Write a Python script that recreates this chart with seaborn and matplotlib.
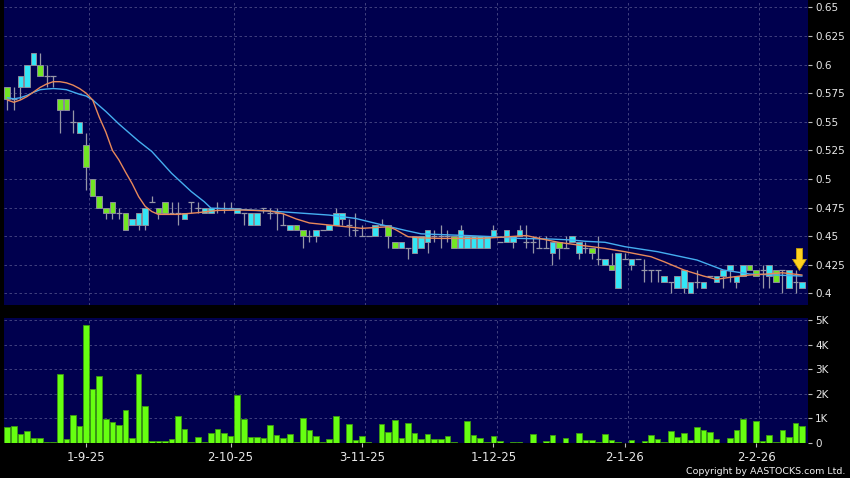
import matplotlib
matplotlib.use("Agg")
import numpy as np
import matplotlib.pyplot as plt
import seaborn as sns

# --- daily bars (trading-day index 0..121) ---
opens = [0.58, 0.57, 0.58, 0.58, 0.60, 0.60, 0.59, 0.59, 0.57, 0.57,
         0.55, 0.54, 0.53, 0.50, 0.485, 0.475, 0.48, 0.47, 0.47, 0.46,
         0.46, 0.46, 0.48, 0.475, 0.48, 0.47, 0.47, 0.465, 0.48, 0.475,
         0.47, 0.47, 0.475, 0.475, 0.475, 0.47, 0.47, 0.46, 0.46, 0.475,
         0.47, 0.47, 0.46, 0.455, 0.46, 0.455, 0.45, 0.45, 0.455, 0.455,
         0.46, 0.465, 0.46, 0.455, 0.45, 0.45, 0.45, 0.46, 0.46, 0.445,
         0.44, 0.44, 0.435, 0.44, 0.445, 0.45, 0.45, 0.45, 0.45, 0.44,
         0.44, 0.44, 0.44, 0.44, 0.45, 0.445, 0.445, 0.445, 0.45, 0.445,
         0.445, 0.44, 0.44, 0.435, 0.445, 0.44, 0.445, 0.435, 0.44, 0.44,
         0.43, 0.425, 0.425, 0.405, 0.43, 0.425, 0.43, 0.42, 0.42, 0.42,
         0.41, 0.41, 0.405, 0.405, 0.40, 0.41, 0.405, 0.415, 0.41, 0.415,
         0.42, 0.41, 0.415, 0.425, 0.42, 0.42, 0.415, 0.42, 0.42, 0.405,
         0.41, 0.405]
highs = [0.58, 0.58, 0.59, 0.60, 0.61, 0.61, 0.60, 0.59, 0.57, 0.57,
         0.56, 0.55, 0.54, 0.50, 0.485, 0.475, 0.48, 0.475, 0.47, 0.465,
         0.47, 0.475, 0.485, 0.475, 0.48, 0.48, 0.48, 0.47, 0.48, 0.48,
         0.475, 0.475, 0.48, 0.48, 0.48, 0.475, 0.47, 0.47, 0.47, 0.475,
         0.475, 0.475, 0.47, 0.46, 0.46, 0.455, 0.455, 0.455, 0.455, 0.46,
         0.475, 0.47, 0.465, 0.47, 0.46, 0.45, 0.46, 0.465, 0.46, 0.445,
         0.445, 0.44, 0.45, 0.45, 0.455, 0.455, 0.46, 0.455, 0.45, 0.46,
         0.45, 0.45, 0.45, 0.45, 0.46, 0.445, 0.455, 0.45, 0.46, 0.46,
         0.45, 0.45, 0.45, 0.445, 0.445, 0.45, 0.45, 0.445, 0.445, 0.44,
         0.45, 0.43, 0.435, 0.435, 0.435, 0.43, 0.43, 0.43, 0.42, 0.42,
         0.415, 0.41, 0.415, 0.42, 0.41, 0.42, 0.41, 0.415, 0.415, 0.42,
         0.425, 0.415, 0.425, 0.425, 0.42, 0.425, 0.425, 0.42, 0.42, 0.42,
         0.42, 0.41]
lows = [0.56, 0.56, 0.57, 0.58, 0.60, 0.59, 0.58, 0.58, 0.54, 0.56,
        0.54, 0.54, 0.49, 0.485, 0.475, 0.465, 0.465, 0.465, 0.455, 0.46,
        0.455, 0.455, 0.48, 0.465, 0.47, 0.47, 0.46, 0.465, 0.47, 0.47,
        0.47, 0.47, 0.47, 0.47, 0.475, 0.47, 0.46, 0.46, 0.46, 0.47,
        0.465, 0.455, 0.46, 0.455, 0.455, 0.44, 0.445, 0.445, 0.455, 0.455,
        0.46, 0.46, 0.45, 0.45, 0.45, 0.45, 0.45, 0.46, 0.44, 0.44,
        0.44, 0.43, 0.435, 0.44, 0.435, 0.445, 0.44, 0.445, 0.44, 0.44,
        0.44, 0.44, 0.44, 0.44, 0.45, 0.445, 0.445, 0.44, 0.45, 0.44,
        0.435, 0.44, 0.44, 0.425, 0.43, 0.44, 0.445, 0.43, 0.435, 0.43,
        0.425, 0.425, 0.42, 0.405, 0.43, 0.42, 0.43, 0.41, 0.41, 0.41,
        0.41, 0.40, 0.405, 0.40, 0.40, 0.405, 0.405, 0.415, 0.41, 0.405,
        0.41, 0.405, 0.415, 0.42, 0.415, 0.405, 0.405, 0.41, 0.40, 0.405,
        0.40, 0.405]
closes = [0.57, 0.57, 0.59, 0.60, 0.61, 0.59, 0.59, 0.59, 0.56, 0.56,
          0.55, 0.55, 0.51, 0.485, 0.475, 0.47, 0.47, 0.47, 0.455, 0.465,
          0.47, 0.475, 0.48, 0.47, 0.47, 0.47, 0.47, 0.47, 0.48, 0.475,
          0.475, 0.475, 0.475, 0.475, 0.475, 0.475, 0.47, 0.47, 0.47, 0.475,
          0.47, 0.47, 0.46, 0.46, 0.455, 0.45, 0.45, 0.455, 0.455, 0.46,
          0.47, 0.47, 0.46, 0.455, 0.45, 0.45, 0.46, 0.46, 0.45, 0.44,
          0.445, 0.44, 0.45, 0.45, 0.455, 0.45, 0.45, 0.45, 0.44, 0.455,
          0.45, 0.45, 0.45, 0.45, 0.455, 0.445, 0.455, 0.45, 0.455, 0.445,
          0.445, 0.44, 0.44, 0.445, 0.44, 0.44, 0.45, 0.445, 0.44, 0.435,
          0.43, 0.43, 0.42, 0.435, 0.43, 0.43, 0.43, 0.42, 0.42, 0.42,
          0.415, 0.41, 0.415, 0.42, 0.41, 0.41, 0.41, 0.415, 0.415, 0.42,
          0.425, 0.415, 0.425, 0.42, 0.415, 0.42, 0.425, 0.41, 0.42, 0.42,
          0.41, 0.41]
# volume in thousands of shares
volume_k = [0.65, 0.70, 0.38, 0.50, 0.22, 0.22, 0.05, 0.05, 2.80, 0.15,
            1.15, 0.70, 4.80, 2.18, 2.74, 0.98, 0.87, 0.72, 1.34, 0.20,
            2.80, 1.49, 0.08, 0.08, 0.10, 0.15, 1.08, 0.58, 0.04, 0.24,
            0.05, 0.39, 0.58, 0.39, 0.30, 1.95, 0.99, 0.26, 0.23, 0.20,
            0.73, 0.34, 0.22, 0.38, 0.05, 1.00, 0.51, 0.30, 0.03, 0.16,
            1.10, 0.02, 0.77, 0.11, 0.27, 0.03, 0.01, 0.79, 0.46, 0.92,
            0.19, 0.80, 0.42, 0.16, 0.38, 0.18, 0.18, 0.28, 0.04, 0.01,
            0.90, 0.33, 0.20, 0.04, 0.28, 0.08, 0.01, 0.04, 0.04, 0.02,
            0.37, 0.01, 0.10, 0.34, 0.01, 0.19, 0.01, 0.41, 0.14, 0.14,
            0.05, 0.37, 0.12, 0.03, 0.01, 0.12, 0.01, 0.10, 0.34, 0.16,
            0.05, 0.49, 0.26, 0.42, 0.14, 0.64, 0.54, 0.45, 0.15, 0.01,
            0.19, 0.53, 0.99, 0.01, 0.89, 0.10, 0.34, 0.05, 0.54, 0.23,
            0.81, 0.70]

# moving averages (10-day orange, 20-day blue)
ma10_idx = [0, 1, 2, 3, 4, 5, 6, 7, 8, 9, 10, 11, 12, 13, 14, 15, 16, 17, 18, 19,
            20, 21, 22, 23, 26, 29, 32, 36, 40, 42, 44, 46, 49, 54, 58, 59, 61, 63,
            66, 72, 75, 79, 81, 84, 87, 91, 94, 98, 100, 103, 106, 108, 110,
            113, 116, 118, 121]
ma10_val = [0.569, 0.567, 0.569, 0.572, 0.576, 0.580, 0.583, 0.585, 0.585, 0.584,
            0.582, 0.579, 0.575, 0.569, 0.554, 0.541, 0.525, 0.5165, 0.506, 0.496,
            0.4845, 0.476, 0.4715, 0.469, 0.469, 0.4705, 0.4725, 0.4728, 0.472, 0.4695,
            0.465, 0.4615, 0.4597, 0.4568, 0.4582, 0.456, 0.4495, 0.4485, 0.448, 0.448,
            0.449, 0.4505, 0.448, 0.4445, 0.4422, 0.4393, 0.4364, 0.432, 0.4276,
            0.4204, 0.4151, 0.4122, 0.414, 0.416, 0.417, 0.418, 0.416]
ma20_idx = [0, 1, 2, 3, 4, 5, 6, 7, 8, 9, 10, 11, 12, 13, 15, 17, 20, 22, 25, 28,
            30, 31, 35, 42, 49, 53, 58, 61, 63, 70, 74, 78, 83, 86, 88, 91, 94, 99,
            105, 109, 113, 117, 121]
ma20_val = [0.571, 0.570, 0.571, 0.573, 0.5757, 0.578, 0.5786, 0.579, 0.5786, 0.578,
            0.576, 0.574, 0.5725, 0.569, 0.559, 0.548, 0.533, 0.524, 0.505, 0.489,
            0.480, 0.4745, 0.4735, 0.4712, 0.4684, 0.4655, 0.4585, 0.4545, 0.452,
            0.4505, 0.4495, 0.448, 0.4474, 0.4466, 0.4455, 0.4446, 0.4408, 0.4364,
            0.4291, 0.4204, 0.4169, 0.416, 0.4151]

date_ticks = [12, 34, 54, 74, 94, 114]
date_labels = ['1-9-25', '2-10-25', '3-11-25', '1-12-25', '2-1-26', '2-2-26']

# --- style ---
NAVY = '#00004e'
GRID = '#4b4b86'
sns.set_theme(style='dark', rc={'axes.facecolor': NAVY, 'figure.facecolor': 'black'})
plt.rcParams['font.family'] = ['DejaVu Sans']

idx = np.arange(len(closes))
o = np.array(opens); c = np.array(closes)
h = np.array(highs); l = np.array(lows)

fig = plt.figure(figsize=(8.5, 4.78), dpi=100, facecolor='black')
ax = fig.add_axes([4/850, 1 - 305/478, 804/850, 305/478])
axv = fig.add_axes([4/850, 35/478, 804/850, 125/478], sharex=ax)

# candles
ax.vlines(idx, l, h, color='#9696a6', linewidth=0.9, zorder=2)
up = c > o
down = c < o
flat = c == o
ax.bar(idx[up], c[up] - o[up], bottom=o[up], width=0.85, color='#33e6f6',
       edgecolor='#8c8c9a', linewidth=0.7, zorder=3)
ax.bar(idx[down], o[down] - c[down], bottom=c[down], width=0.85, color='#72e524',
       edgecolor='#8c8c9a', linewidth=0.7, zorder=3)
ax.hlines(c[flat], idx[flat] - 0.45, idx[flat] + 0.45, color='#9696a6',
          linewidth=0.9, zorder=3)

sns.lineplot(x=ma20_idx, y=ma20_val, ax=ax, color='#45aef0', linewidth=1.0, zorder=4)
sns.lineplot(x=ma10_idx, y=ma10_val, ax=ax, color='#e8895a', linewidth=1.0, zorder=5)

# marker arrow above the last sessions
ax.annotate('', xy=(idx[-2] + 0.6, h[-2]), xytext=(idx[-2] + 0.6, h[-2] + 0.0192),
            arrowprops=dict(arrowstyle='simple,head_length=0.8,head_width=1.0,tail_width=0.45',
                            fc='#ffd21f', ec='#c9a000', lw=0.5, mutation_scale=10,
                            shrinkA=0, shrinkB=0),
            zorder=6)

# volume
sns.barplot(x=idx, y=volume_k, ax=axv, native_scale=True, color='#66ff11',
            saturation=1, width=0.85, edgecolor='#3c9a10', linewidth=0.6)

for a in (ax, axv):
    a.set_facecolor(NAVY)
    for s in a.spines.values():
        s.set_visible(False)
    a.yaxis.tick_right()
    a.grid(True, axis='y', color=GRID, linestyle=(0, (3, 3)), linewidth=0.6)
    a.grid(False, axis='x')
    for t in date_ticks:
        a.axvline(t + 0.5, color=GRID, linestyle=(0, (3, 3)), linewidth=0.6, zorder=0.5)
    a.tick_params(axis='y', colors='#bdbdbd', labelcolor='#e8e8e8', labelsize=7.5,
                  length=3, width=0.8, pad=2, right=True, left=False)
    a.set_xlabel('')
    a.set_ylabel('')

ax.set_xlim(-0.5, 121.9)
ax.set_ylim(0.3898, 0.6564)
yt = np.arange(0.4, 0.6501, 0.025)
ax.set_yticks(yt)
ax.set_yticklabels([f'{v:.3f}'.rstrip('0').rstrip('.') for v in yt])
ax.tick_params(axis='x', bottom=False, labelbottom=False)

axv.set_ylim(0, 5.09)
axv.set_yticks([0, 1, 2, 3, 4, 5])
axv.set_yticklabels(['0', '1K', '2K', '3K', '4K', '5K'])
axv.set_xticks(date_ticks)
axv.set_xticklabels(date_labels)
axv.tick_params(axis='x', colors='#bdbdbd', labelcolor='#e8e8e8', labelsize=8.5,
                length=3, width=0.8, pad=3, bottom=True)

fig.text(845/850, 1 - 471/478, 'Copyright by AASTOCKS.com Ltd.', ha='right', va='center',
         color='#f0f0f0', fontsize=6.8)

fig.savefig('out.png', dpi=100, facecolor='black')
